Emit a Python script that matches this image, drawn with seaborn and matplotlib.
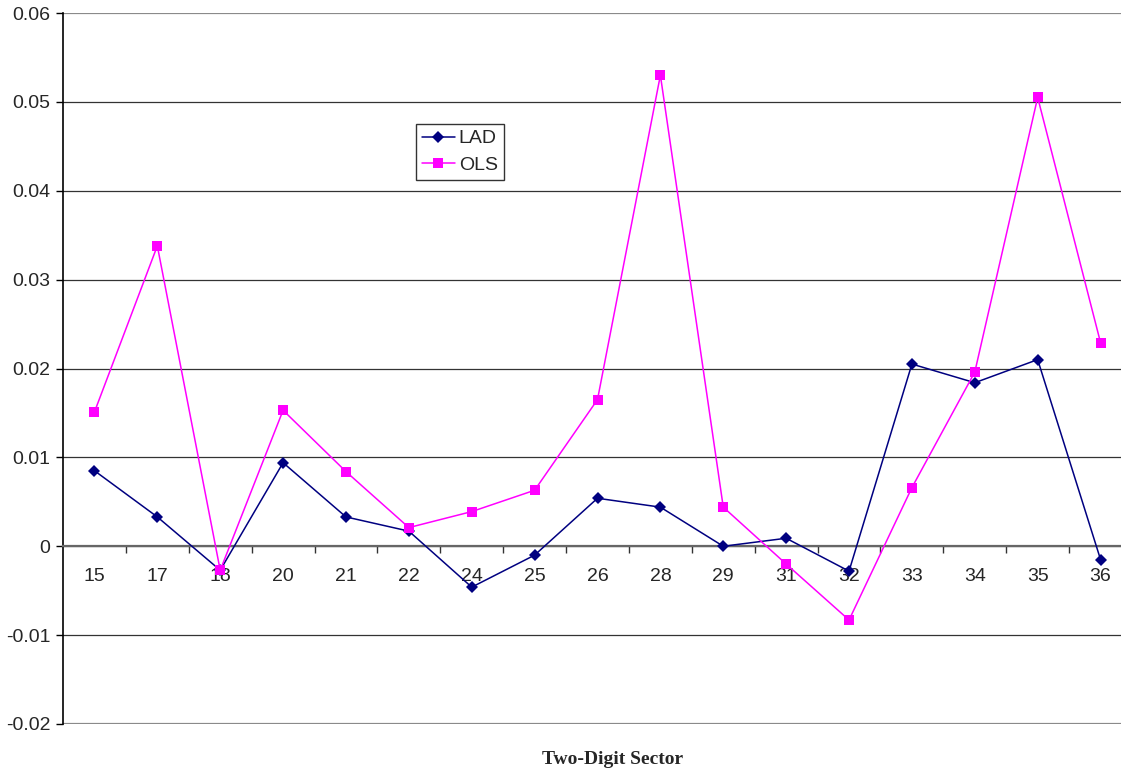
import numpy as np
import pandas as pd
import matplotlib
matplotlib.use('Agg')
import matplotlib.pyplot as plt
import seaborn as sns
from matplotlib.ticker import FixedLocator, NullFormatter

# ---------------- data ----------------
sectors = ['15', '17', '18', '20', '21', '22', '24', '25', '26',
           '28', '29', '31', '32', '33', '34', '35', '36']
lad = [0.0085, 0.0033, -0.0027, 0.0094, 0.0033, 0.0017, -0.0046, -0.0010, 0.0054,
       0.0044, 0.0000, 0.0009, -0.0028, 0.0205, 0.0184, 0.0210, -0.0015]
ols = [0.0151, 0.0338, -0.0027, 0.0153, 0.0084, 0.0021, 0.0039, 0.0063, 0.0165,
       0.0530, 0.0044, -0.0020, -0.0083, 0.0066, 0.0196, 0.0505, 0.0229]
y_ticks = [-0.02, -0.01, 0, 0.01, 0.02, 0.03, 0.04, 0.05, 0.06]
y_labels = ['-0.02', '-0.01', '0', '0.01', '0.02', '0.03', '0.04', '0.05', '0.06']

df = pd.DataFrame({'pos': list(range(len(sectors))) * 2,
                   'value': lad + ols,
                   'model': ['LAD'] * len(sectors) + ['OLS'] * len(sectors)})

# ---------------- plot ----------------
sns.set_style('white')
plt.rcParams['font.family'] = ['Liberation Sans', 'DejaVu Sans']

fig = plt.figure(figsize=(11.21, 7.73), dpi=100)
ax = fig.add_axes([63 / 1121, 49 / 773, 1069 / 1121, 711 / 773])

for yv in y_ticks[1:-1]:
    ax.axhline(yv, color='#333333', lw=0.9, zorder=0)
ax.axhline(0.06, color='#8a8a8a', lw=1.6, zorder=0)
ax.axhline(-0.02, color='#8a8a8a', lw=1.6, zorder=0)

sns.lineplot(data=df, x='pos', y='value', hue='model', style='model',
             palette={'LAD': '#000080', 'OLS': '#FF00FF'},
             markers={'LAD': 'D', 'OLS': 's'}, dashes=False,
             markersize=7.8, markeredgewidth=0, linewidth=1.1, ax=ax,
             zorder=3)
for ln in ax.lines:
    if ln.get_marker() == 'D':
        ln.set_markersize(6.5)

ax.set_xlim(-0.5, 16.5)
ax.set_ylim(-0.02, 0.06)

# y axis
ax.set_yticks(y_ticks)
ax.set_yticklabels(y_labels)
ax.tick_params(axis='y', which='major', direction='out', length=5, width=1,
               color='black', labelsize=14, pad=4, left=True)

# x axis sits on zero
ax.spines['bottom'].set_position(('data', 0))
ax.spines['bottom'].set_color('#666666')
ax.spines['bottom'].set_linewidth(1.6)
ax.spines['top'].set_visible(False)
ax.spines['right'].set_visible(False)
ax.spines['left'].set_color('black')
ax.spines['left'].set_linewidth(1.2)

ax.set_xticks(range(len(sectors)))
ax.set_xticklabels(sectors)
ax.xaxis.set_minor_locator(FixedLocator(np.arange(0.5, len(sectors), 1.0)))
ax.xaxis.set_minor_formatter(NullFormatter())
ax.tick_params(axis='x', which='major', length=0, labelsize=14, pad=16,
               bottom=True)
ax.tick_params(axis='x', which='minor', direction='out', length=5, width=1,
               color='#333333', bottom=True)

ax.set_xlabel('')
ax.set_ylabel('')

# legend
handles, labels = ax.get_legend_handles_labels()
leg = ax.legend(handles, labels, loc='upper left',
                bbox_to_anchor=(416 / 1121, 1 - 124 / 773),
                bbox_transform=fig.transFigure, fancybox=False,
                frameon=True, fontsize=14, handlelength=1.7,
                handletextpad=0.2, borderpad=0.3, labelspacing=0.45,
                borderaxespad=0)
leg.get_frame().set_edgecolor('black')
leg.get_frame().set_linewidth(1.0)

fig.text(613 / 1121, 1 - 760 / 773, 'Two-Digit Sector', ha='center',
         va='center', fontsize=14, fontweight='bold',
         family=['Liberation Serif', 'DejaVu Serif'])

fig.savefig('out.png', dpi=100)
